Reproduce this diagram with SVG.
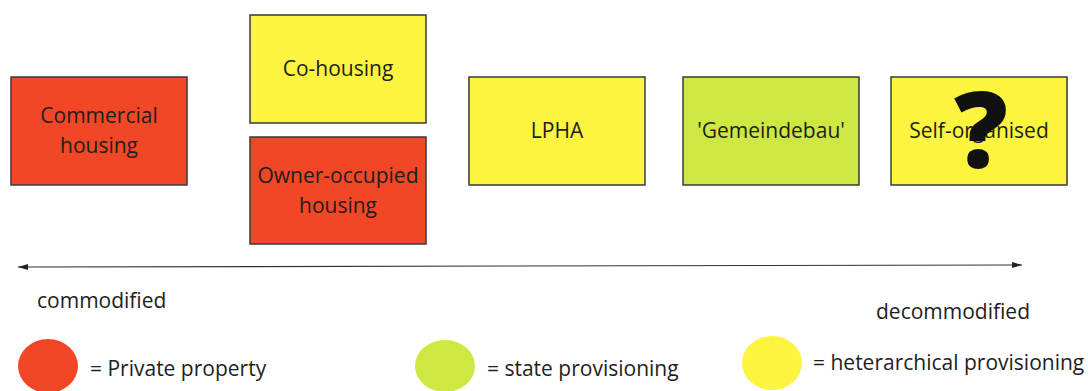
<svg xmlns="http://www.w3.org/2000/svg" width="1088" height="391" viewBox="0 0 1088 391">
<style>
.box{stroke:#3a3a3a;stroke-width:1.5}
.red{fill:#f24726}
.yel{fill:#fcf43f}
.grn{fill:#cee741}
text{font-family:"Open Sans","Noto Sans",sans-serif;fill:#1e1e1e}
.bt{font-size:21px;text-anchor:middle}
.lt{font-size:21px}
</style>
<defs>
<marker id="ah" viewBox="0 0 10 10" refX="10" refY="5" markerWidth="10" markerHeight="10" markerUnits="userSpaceOnUse" orient="auto-start-reverse">
<path d="M0,2 L10,5 L0,8 Z" fill="#222"/>
</marker>
</defs>
<rect width="1088" height="391" fill="#fff"/>
<g id="commercial">
<rect class="box red" x="11" y="77" width="176" height="108"/>
<text class="bt" x="99" y="123">Commercial</text>
<text class="bt" x="99" y="153">housing</text>
</g>
<g id="cohousing">
<rect class="box yel" x="250" y="15" width="176" height="108"/>
<text class="bt" x="338" y="76">Co-housing</text>
</g>
<g id="owner">
<rect class="box red" x="250" y="137" width="176" height="107"/>
<text class="bt" x="338" y="183">Owner-occupied</text>
<text class="bt" x="338" y="213">housing</text>
</g>
<g id="lpha">
<rect class="box yel" x="469" y="77" width="176" height="108"/>
<text class="bt" x="557" y="138">LPHA</text>
</g>
<g id="gemeindebau">
<rect class="box grn" x="683" y="77" width="176" height="108"/>
<text class="bt" x="771" y="138">'Gemeindebau'</text>
</g>
<g id="selforganised">
<rect class="box yel" x="891" y="77" width="176" height="108"/>
<text class="bt" x="979" y="138">Self-organised</text>
<text x="981" y="168" style="font-family:'Open Sans',sans-serif;font-weight:800;font-size:106px;text-anchor:middle;fill:#111">?</text>
</g>
<g id="connectors">
<line x1="18" y1="267" x2="1022" y2="265" stroke="#333" stroke-width="1.2" marker-start="url(#ah)" marker-end="url(#ah)"/>
</g>
<g id="axis-labels">
<text class="lt" x="37" y="308">commodified</text>
<text class="lt" x="876" y="319">decommodified</text>
</g>
<g id="legend">
<ellipse class="red" cx="48" cy="366" rx="30" ry="27"/>
<text class="lt" x="90" y="376">= Private property</text>
<ellipse class="grn" cx="445" cy="366" rx="30" ry="26"/>
<text class="lt" x="487" y="376">= state provisioning</text>
<ellipse class="yel" cx="772" cy="363" rx="30" ry="27"/>
<text class="lt" x="813" y="370">= heterarchical provisioning</text>
</g>
</svg>
